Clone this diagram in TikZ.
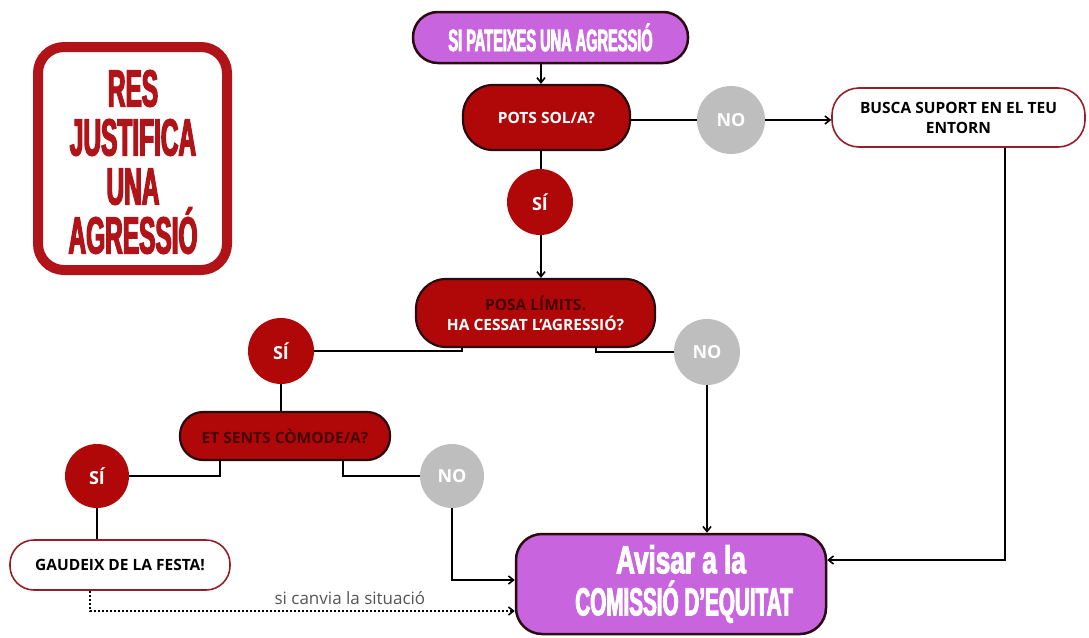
\documentclass[tikz,border=0pt]{standalone}
\usepackage{fontspec}
\setmainfont{Open Sans}
\newfontfamily\cond[FakeStretch=0.47,FakeBold=2.5]{Liberation Sans}
\newfontfamily\condw[FakeStretch=0.53,FakeBold=2.5]{Liberation Sans}
\newfontfamily\condl[FakeStretch=0.67,FakeBold=2.5]{Liberation Sans}
\usetikzlibrary{arrows.meta}
\definecolor{purp}{RGB}{200,100,222}
\definecolor{dred}{RGB}{176,8,8}
\definecolor{rred}{RGB}{176,20,24}
\definecolor{nogray}{RGB}{190,190,190}
\definecolor{oline}{RGB}{40,10,15}
\definecolor{wline}{RGB}{150,30,40}
\definecolor{mtext}{RGB}{70,0,0}
\definecolor{lbl}{RGB}{85,85,85}
\tikzset{
  pillp/.style={draw=oline,line width=2.5pt,fill=purp,text=white,inner sep=0pt,align=center},
  pillr/.style={draw=oline,line width=2.2pt,fill=dred,text=white,inner sep=0pt,align=center,font=\bfseries\fontsize{15.5}{20}\selectfont},
  pillw/.style={draw=wline,line width=1.6pt,fill=white,text=black,inner sep=0pt,align=center,font=\bfseries\fontsize{15.5}{20}\selectfont},
  sic/.style={circle,fill=dred,text=white,minimum size=66pt,inner sep=0pt,font=\bfseries\fontsize{18}{20}\selectfont},
  noc/.style={circle,fill=nogray,text=white,minimum size=68pt,inner sep=0pt,font=\bfseries\fontsize{18}{20}\selectfont},
  conn/.style={draw=black,line width=1.8pt},
  arr/.style={conn,-{Straight Barb[length=5pt,width=8pt,line width=1.6pt]}},
  dotarr/.style={draw=black,line width=2pt,dotted,-{Straight Barb[length=5pt,width=8pt,line width=1.6pt]}}
}
\begin{document}
\begin{tikzpicture}[x=1pt,y=-1pt]
\useasboundingbox[fill=white] (0,0) rectangle (1089,637);
% Left framed message
\node[draw=rred,line width=10pt,rounded corners=26pt,minimum width=189pt,minimum height=223pt,inner sep=0pt] (res) at (132.5,158.5) {};
\node[text=rred,align=center,font=\cond\bfseries\fontsize{52}{49}\selectfont] (restxt) at (133,162) {RES\\JUSTIFICA\\UNA\\AGRESSIÓ};
% Nodes
\node[pillp,minimum width=275pt,minimum height=51pt,rounded corners=25pt,font=\cond\bfseries\fontsize{31}{31}\selectfont] (title) at (550.5,37.5) {SI PATEIXES UNA AGRESSIÓ};
\node[pillr,minimum width=167pt,minimum height=65pt,rounded corners=30pt] (pots) at (546.5,117.5) {POTS SOL/A?};
\node[noc] (no1) at (731,120) {NO};
\node[sic] (si1) at (540,202) {SÍ};
\node[pillw,minimum width=253pt,minimum height=59pt,rounded corners=27pt] (busca) at (958.5,117.5) {BUSCA SUPORT EN EL TEU\\ENTORN};
\node[pillr,minimum width=239pt,minimum height=68pt,rounded corners=30pt] (posa) at (535.5,313) {\textcolor{mtext}{POSA LÍMITS.}\\HA CESSAT L’AGRESSIÓ?};
\node[sic] (si2) at (281,351) {SÍ};
\node[noc,minimum size=66pt] (no2) at (707,352) {NO};
\node[pillr,minimum width=210pt,minimum height=48pt,rounded corners=23pt,text=mtext] (et) at (285,436) {ET SENTS CÒMODE/A?};
\node[sic,minimum size=64pt] (si3) at (97,476) {SÍ};
\node[noc,minimum size=64pt] (no3) at (452,476) {NO};
\node[pillw,minimum width=220pt,minimum height=50pt,rounded corners=24pt] (gaud) at (120,565) {GAUDEIX DE LA FESTA!};
\node[pillp,minimum width=310pt,minimum height=100pt,rounded corners=26pt,font=\condw\bfseries\fontsize{39}{42}\selectfont] (avis) at (671,584) {\hspace*{20pt}{\condl\bfseries Avisar a la}\\\hspace*{26pt}COMISSIÓ D’EQUITAT};
% Helper coordinates
\coordinate (c1) at (541,0);
\coordinate (c2) at (462,0);
\coordinate (c3) at (596,0);
\coordinate (c4) at (220,0);
\coordinate (c5) at (343,0);
\coordinate (c6) at (90,0);
\coordinate (c7) at (1005,0);
\coordinate (yA) at (0,580);
\coordinate (yB) at (0,560);
\coordinate (yC) at (0,611);
% Connectors
\draw[arr] (title.south -| c1) -- (pots.north -| c1);
\draw[conn] (pots.east |- no1) -- (no1.west);
\draw[arr] (no1.east) -- (busca.west |- no1);
\draw[conn] (pots.south -| c1) -- (si1.north -| c1);
\draw[arr] (si1.south -| c1) -- (posa.north -| c1);
\draw[conn] (posa.south -| c2) |- (si2.east);
\draw[conn] (posa.south -| c3) |- (no2.west);
\draw[conn] (si2.south) -- (et.north -| si2);
\draw[conn] (et.south -| c4) |- (si3.east);
\draw[conn] (et.south -| c5) |- (no3.west);
\draw[conn] (si3.south) -- (gaud.north -| si3);
\draw[arr] (no3.south) |- (avis.west |- yA);
\draw[arr] (no2.south) -- (avis.north -| no2);
\draw[arr] (busca.south -| c7) |- (avis.east |- yB);
\draw[dotarr] (gaud.south -| c6) |- (avis.west |- yC) node[pos=0.806,above=2pt,text=lbl,font=\fontsize{17}{19}\selectfont] (lab) {si canvia la situació};
\end{tikzpicture}
\end{document}
